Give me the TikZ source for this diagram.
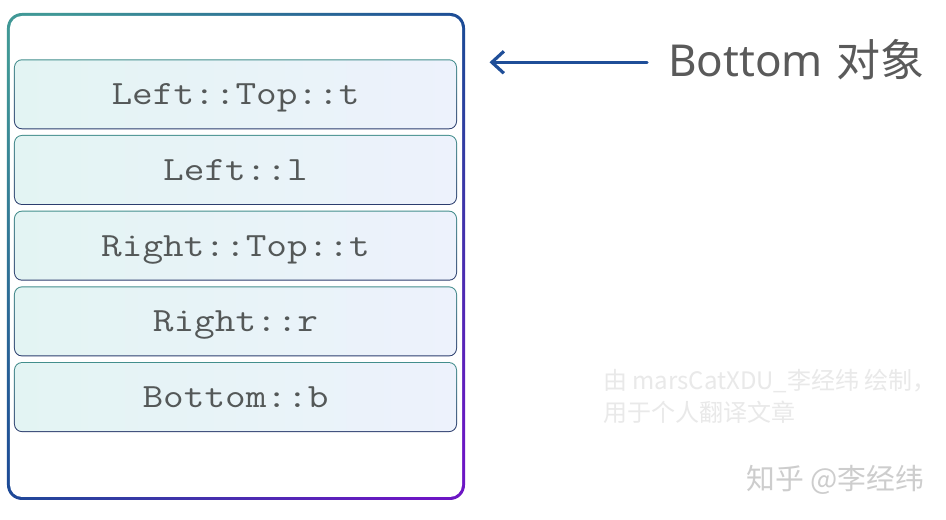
\documentclass[tikz,border=0pt]{standalone}
\usepackage{fontspec}
\usepackage{graphicx}
\usetikzlibrary{arrows.meta}
\newfontfamily\cjkfont{Noto Sans CJK SC}
\newfontfamily\latinsans{Noto Sans}
\definecolor{bteal}{RGB}{64,152,150}
\definecolor{bblue}{RGB}{28,74,150}
\definecolor{bpurple}{RGB}{108,22,196}
\definecolor{iteal}{RGB}{66,142,140}
\definecolor{inavy}{RGB}{44,60,110}
\definecolor{fillL}{RGB}{227,244,243}
\definecolor{fillR}{RGB}{237,242,252}
\definecolor{codegray}{RGB}{84,88,88}
\definecolor{labelgray}{RGB}{90,90,90}
\definecolor{arrowblue}{RGB}{31,78,152}
\definecolor{wmlight}{RGB}{233,233,233}
\definecolor{wmgray}{RGB}{205,205,205}
\pgfdeclarehorizontalshading{outergrad}{100bp}{color(0bp)=(bteal); color(18bp)=(bteal); color(50bp)=(bblue); color(82bp)=(bpurple); color(100bp)=(bpurple)}
\newcommand{\codetext}[1]{\addfontfeature{FakeBold=0.5}\scalebox{1.18}[1]{#1}}
\begin{document}
\begin{tikzpicture}[x=1bp,y=1bp,
  outerbox/.style={rectangle, rounded corners=15bp, minimum width=458bp, minimum height=487bp, inner sep=0pt,
    shade, shading=outergrad, shading angle=-45,
    path picture={\fill[white, rounded corners=12bp] ([shift={(3bp,3bp)}]path picture bounding box.south west) rectangle ([shift={(-3bp,-3bp)}]path picture bounding box.north east);}},
  rowbox/.style={rectangle, rounded corners=8bp, minimum width=443bp, minimum height=70bp, inner sep=0pt,
    top color=iteal, bottom color=inavy,
    path picture={\shade[left color=fillL, right color=fillR, rounded corners=7bp] ([shift={(1bp,1bp)}]path picture bounding box.south west) rectangle ([shift={(-1bp,-1bp)}]path picture bounding box.north east);},
    font=\fontsize{34bp}{36bp}\selectfont\ttfamily, text=codegray, text height=20.8bp, text depth=0pt},
  biglabel/.style={anchor=base west, inner sep=0pt, text=labelgray, font=\fontsize{44bp}{48bp}\selectfont},
  ptr/.style={draw=arrowblue, line width=3.2bp, line cap=round, -{Straight Barb[length=12bp,width=22bp]}},
  wmark/.style={anchor=base west, inner sep=0pt, text=wmlight, font=\fontsize{24bp}{26bp}\selectfont\cjkfont},
  zhihu/.style={anchor=base west, inner sep=0pt, text=wmgray, font=\fontsize{28.8bp}{30bp}\selectfont\cjkfont}
]
\useasboundingbox (0,0) rectangle (946,520);
\fill[white] (0,0) rectangle (946,520);

\node[outerbox] (frame) at (236,263.5) {};

\node[rowbox] (r1) at (235.5,425.7) {\codetext{Left::Top::t}};
\node[rowbox] (r2) at (235.5,350.0) {\codetext{Left::l}};
\node[rowbox] (r3) at (235.5,274.3) {\codetext{Right::Top::t}};
\node[rowbox] (r4) at (235.5,198.6) {\codetext{Right::r}};
\node[rowbox] (r5) at (235.5,122.9) {\codetext{Bottom::b}};

\node[biglabel] (label) at (668,443.3) {{\latinsans Bottom} {\cjkfont 对象}};

\coordinate (tail) at (647,457.7);
\coordinate (tip) at (489.5,457.7);
\draw[ptr] (tail) -- (tip);

\node[wmark] (wm1) at (603,130) {由 marsCatXDU\_李经纬 绘制，};
\node[wmark] (wm2) at (603,98) {用于个人翻译文章};
\node[zhihu] (zh) at (746,30) {知乎 @李经纬};
\end{tikzpicture}
\end{document}
